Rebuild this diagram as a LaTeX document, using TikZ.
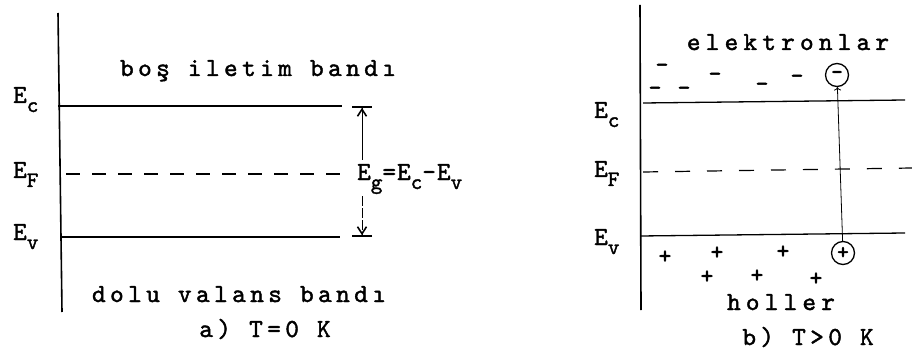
\documentclass[tikz,border=0pt]{standalone}
\usepackage{fontspec}
\usetikzlibrary{arrows.meta}
\newfontfamily\typa[LetterSpace=17,FakeBold=1.6]{lmmono10-regular.otf}
\newfontfamily\typb[LetterSpace=20,FakeBold=1.6]{lmmono10-regular.otf}
\newfontfamily\typl[LetterSpace=4,FakeBold=1.6]{lmmono10-regular.otf}
\newfontfamily\typs[FakeBold=2.5]{lmmono10-regular.otf}
\newcommand{\lev}[2]{#1\raisebox{-9pt}{\fontsize{22}{22}\selectfont #2}}

\begin{document}
\begin{tikzpicture}[x=1pt, y=-1pt,
    txt/.style={inner sep=0pt, anchor=base, font=\fontsize{26}{26}\typa},
    txtb/.style={inner sep=0pt, anchor=base, font=\fontsize{26}{26}\typb},
    lbl/.style={inner sep=0pt, anchor=base west, font=\fontsize{26}{26}\typl},
    band/.style={line width=1.6pt},
    fermi/.style={line width=1.2pt, dash pattern=on 14pt off 12pt},
    sign/.style={inner sep=0pt, font=\fontsize{24}{24}\typs},
    carrier/.style={circle, draw, line width=1.3pt, inner sep=0pt, minimum size=23pt, font=\fontsize{22}{22}\typs}]
        \useasboundingbox (0,0) rectangle (912,358);

        % a) T=0 K
        \coordinate (axa1) at (58,13);
        \coordinate (axa2) at (62,312);
        \draw[band] (axa1) -- (axa2);

        \coordinate (eca1) at (58,106);
        \coordinate (eca2) at (342,106);
        \coordinate (efa1) at (66,174);
        \coordinate (efa2) at (350,174);
        \coordinate (eva1) at (62,237);
        \coordinate (eva2) at (340,237);
        \draw[band] (eca1) -- (eca2);
        \draw[fermi] (efa1) -- (efa2);
        \draw[band] (eva1) -- (eva2);

        \node[lbl] (lca) at (13,103) {\lev{E}{c}};
        \node[lbl] (lfa) at (13,178) {\lev{E}{F}};
        \node[lbl] (lva) at (13,240) {\lev{E}{v}};

        \node[txt] (cond) at (258,76) {boş iletim bandı};
        \node[txt] (val) at (239,302) {dolu valans bandı};
        \node[txt] (capa) at (265,337) {a) T=0 K};

        % band gap between E_c and E_v
        \node[lbl] (gap) at (357,180) {\lev{E}{g}=\lev{E}{c}-\lev{E}{v}};
        \coordinate (gtop) at (362,106);
        \coordinate (gbot) at (362,237);
        \coordinate (gapu) at (362,160);
        \coordinate (gapd) at (362,196);
        \draw[line width=1pt, -{Straight Barb[length=7pt,width=9pt,line width=1.6pt] Bar[width=20pt,line width=1.8pt]}] (gapu) -- (gtop);
        \draw[line width=1pt, dash pattern=on 10pt off 2pt, -{Straight Barb[length=7pt,width=9pt,line width=1.6pt] Bar[width=20pt,line width=1.8pt]}] (gapd) -- (gbot);

        % b) T>0 K
        \coordinate (axb1) at (640,5);
        \coordinate (axb2) at (641,310);
        \draw[band] (axb1) -- (axb2);

        \coordinate (ecb1) at (643,103);
        \coordinate (ecb2) at (905,100);
        \coordinate (efb1) at (643,172);
        \coordinate (efb2) at (912,168);
        \coordinate (evb1) at (640,236);
        \coordinate (evb2) at (905,233);
        \draw[line width=1.3pt] (ecb1) -- (ecb2);
        \draw[fermi, dash pattern=on 15pt off 17pt] (efb1) -- (efb2);
        \draw[line width=1.3pt] (evb1) -- (evb2);

        \node[lbl] (lcb) at (594,118) {\lev{E}{c}};
        \node[lbl] (lfb) at (594,177) {\lev{E}{F}};
        \node[lbl] (lvb) at (594,245) {\lev{E}{v}};

        \node[txtb] (elab) at (788,50) {elektronlar};
        \node[txtb] (hlab) at (781,310) {holler};
        \node[txt] (capb) at (808,345) {b) T>0 K};

        % electrons above E_c
        \node[sign] (m1) at (662,68) {\textendash};
        \node[sign] (m2) at (655,91) {\textendash};
        \node[sign] (m3) at (684,91) {\textendash};
        \node[sign] (m4) at (715,77) {\textendash};
        \node[sign] (m5) at (762,87) {\textendash};
        \node[sign] (m6) at (797,79) {\textendash};

        % holes below E_v
        \node[sign] (p1) at (665,257) {+};
        \node[sign] (p2) at (717,253) {+};
        \node[sign] (p3) at (707,277) {+};
        \node[sign] (p4) at (757,276) {+};
        \node[sign] (p5) at (783,252) {+};
        \node[sign] (p6) at (816,279) {+};

        % excitation: hole left behind, electron lifted
        \node[carrier] (elec) at (837,75) {\textendash};
        \node[carrier] (hole) at (843,253) {+};
        \draw[->, line width=0.8pt] (hole) -- (elec);
      \end{tikzpicture}
\end{document}
